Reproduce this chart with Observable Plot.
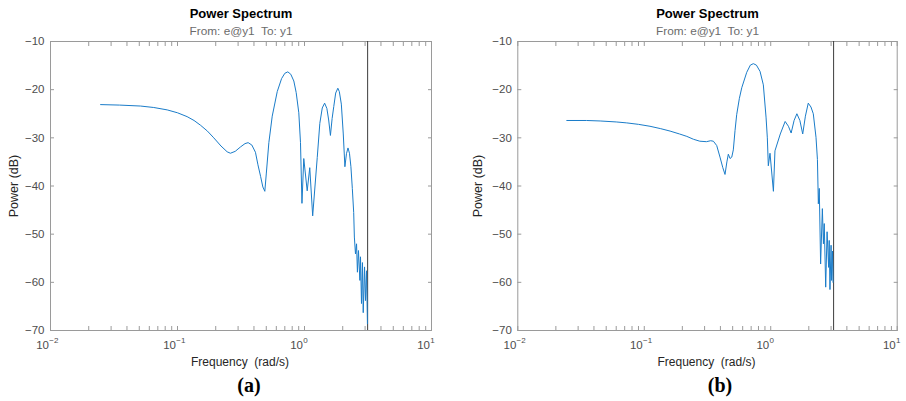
<!DOCTYPE html>
<html><head><meta charset="utf-8">
<script src="https://cdn.jsdelivr.net/npm/d3@7"></script>
<script src="https://cdn.jsdelivr.net/npm/@observablehq/plot@0.6"></script>
<style>
html,body{margin:0;padding:0;background:#fff;}
#fig{position:relative;width:906px;height:401px;overflow:hidden;background:#fff;}
.panel{position:absolute;top:0;width:453px;}
</style></head><body>
<div id="fig"><div id="pa" class="panel" style="left:0"></div><div id="pb" class="panel" style="left:453px"></div></div>
<script>
const titleText = "Power Spectrum";
const subtitleText = "From: e@y1\u00a0 To: y1";
const xLabel = "Frequency\u00a0 (rad/s)";
const yLabel = "Power (dB)";
const panelTags = ["(a)", "(b)"];
const yTicks = [-70, -60, -50, -40, -30, -20, -10];
const xMajorTicks = [0.01, 0.1, 1, 10];
const xTickExponents = ["\u22122", "\u22121", "0", "1"];
const xMinorTicks = [0.01, 0.1, 1].flatMap(d => [2, 3, 4, 5, 6, 7, 8, 9].map(m => m * d));
const nyquist = Math.PI;

const freqA = [0.0248, 0.035, 0.0511, 0.065, 0.083, 0.1, 0.119, 0.135, 0.152, 0.172, 0.193, 0.22, 0.246, 0.261, 0.285, 0.313, 0.34, 0.36, 0.385, 0.411, 0.43, 0.451, 0.47, 0.487, 0.50, 0.524, 0.557, 0.61, 0.66, 0.70, 0.739, 0.78, 0.824, 0.86, 0.902, 0.93, 0.955, 0.987, 1.05, 1.10, 1.16, 1.21, 1.26, 1.32, 1.38, 1.44, 1.50, 1.55, 1.60, 1.65, 1.70, 1.76, 1.83, 1.88, 1.95, 2.02, 2.08, 2.14, 2.20, 2.26, 2.32, 2.38, 2.44, 2.47, 2.52, 2.57, 2.61, 2.66, 2.73, 2.76, 2.81, 2.86, 2.90, 2.97, 3.02, 3.08, 3.13];
const powerA = [-23.1, -23.2, -23.4, -23.7, -24.2, -24.8, -25.6, -26.4, -27.4, -28.6, -30.0, -31.7, -32.9, -33.2, -32.8, -31.9, -31.2, -31.0, -31.5, -33.0, -35.6, -38.0, -40.2, -41.1, -37.5, -31.0, -25.5, -20.4, -17.7, -16.6, -16.3, -16.8, -18.2, -20.6, -24.8, -31.0, -43.6, -34.3, -41.0, -36.2, -46.2, -40.0, -34.1, -27.0, -23.8, -22.8, -23.9, -26.3, -29.5, -26.0, -23.5, -20.7, -19.7, -20.4, -23.0, -29.2, -36.0, -33.3, -32.1, -33.2, -36.0, -40.5, -45.5, -50.6, -54.1, -52.0, -57.9, -53.4, -59.6, -54.7, -64.4, -55.9, -66.3, -56.8, -63.8, -57.6, -68.6];

const freqB = [0.0244, 0.035, 0.0448, 0.06, 0.0727, 0.09, 0.111, 0.135, 0.16, 0.19, 0.217, 0.245, 0.275, 0.31, 0.335, 0.352, 0.374, 0.397, 0.418, 0.435, 0.45, 0.462, 0.477, 0.492, 0.506, 0.522, 0.538, 0.565, 0.59, 0.646, 0.69, 0.729, 0.77, 0.823, 0.874, 0.918, 0.94, 0.957, 0.987, 1.05, 1.08, 1.19, 1.30, 1.38, 1.45, 1.53, 1.61, 1.70, 1.79, 1.88, 1.98, 2.08, 2.17, 2.28, 2.34, 2.38, 2.42, 2.48, 2.56, 2.61, 2.65, 2.72, 2.79, 2.87, 2.90, 2.94, 3.00, 3.03, 3.08, 3.11];
const powerB = [-26.4, -26.4, -26.5, -26.7, -26.9, -27.2, -27.6, -28.1, -28.6, -29.2, -29.7, -30.3, -30.7, -30.8, -30.6, -30.7, -31.6, -34.0, -36.2, -37.6, -35.0, -33.4, -34.3, -34.0, -32.5, -28.5, -25.2, -21.8, -19.6, -16.4, -14.9, -14.6, -14.9, -16.2, -19.0, -25.7, -30.0, -35.8, -33.2, -41.1, -32.7, -29.2, -26.6, -27.6, -29.0, -26.4, -25.0, -26.4, -29.2, -25.5, -22.8, -23.6, -25.0, -29.9, -34.5, -43.7, -40.5, -56.2, -44.7, -52.0, -47.8, -61.0, -49.5, -56.9, -51.3, -61.5, -52.3, -59.6, -53.5, -60.0];

const sans = "'Liberation Sans', Arial, Helvetica, sans-serif";
const serif = "'Liberation Serif', 'Times New Roman', serif";
const frameColor = "#9a9a9a";
const tickTextColor = "#4d4d4d";
const labelColor = "#262626";
const lineColor = "#1a7cc9";

function panel({freq, power, marginLeft, marginRight, tag, tagDx, yLabelDx, xLabelDx}) {
  const data = freq.map((f, i) => ({f, p: power[i]}));
  const xTicksAll = xMajorTicks.concat(xMinorTicks);
  const mid = {lineAnchor: "middle", textAnchor: "middle"};
  return Plot.plot({
    width: 453, height: 401,
    marginLeft, marginRight, marginTop: 41, marginBottom: 71,
    style: {fontFamily: sans, fontSize: "11.5px", color: tickTextColor, background: "transparent", overflow: "visible"},
    x: {type: "log", domain: [0.01, 10]},
    y: {domain: [-70, -10]},
    marks: [
      Plot.axisX(xTicksAll, {anchor: "bottom", tickSize: -4, fill: "none", stroke: frameColor, label: null}),
      Plot.axisX(xTicksAll, {anchor: "top", tickSize: -4, fill: "none", stroke: frameColor, label: null}),
      Plot.axisY(yTicks, {anchor: "left", tickSize: -4, fill: "none", stroke: frameColor, label: null}),
      Plot.axisY(yTicks, {anchor: "right", tickSize: -4, fill: "none", stroke: frameColor, label: null}),
      Plot.axisY(yTicks, {anchor: "left", tickSize: 0, tickPadding: 6, label: null, fill: tickTextColor, fontSize: 11.5}),
      Plot.text(xMajorTicks, {x: d => d, text: () => "10", frameAnchor: "bottom", lineAnchor: "middle", dy: 15.3, dx: -1.5, textAnchor: "end", fill: tickTextColor, fontSize: 11.5}),
      Plot.text(xMajorTicks, {x: d => d, text: (d, i) => xTickExponents[i], frameAnchor: "bottom", lineAnchor: "middle", dy: 10.3, dx: -1.2, textAnchor: "start", fill: tickTextColor, fontSize: 8}),
      Plot.frame({stroke: frameColor}),
      Plot.ruleX([nyquist], {stroke: "#3c3c3c"}),
      Plot.line(data, {x: "f", y: "p", stroke: lineColor, strokeWidth: 1}),
      Plot.text([titleText], {...mid, text: d => d, frameAnchor: "top", dy: -27.8, fontWeight: "bold", fontSize: 13, fill: "#000"}),
      Plot.text([subtitleText], {...mid, text: d => d, frameAnchor: "top", dy: -10.1, fontSize: 11.8, fill: "#6b6b6b"}),
      Plot.text([yLabel], {...mid, text: d => d, frameAnchor: "left", dx: yLabelDx, rotate: -90, fontSize: 12.5, fill: labelColor}),
      Plot.text([xLabel], {...mid, text: d => d, frameAnchor: "bottom", dy: 31.2, dx: xLabelDx, fontSize: 12, fill: labelColor}),
      Plot.text([tag], {...mid, text: d => d, frameAnchor: "bottom", dy: 55, dx: tagDx, fontFamily: serif, fontWeight: "bold", fontSize: 20, fill: "#000"})
    ]
  });
}

document.getElementById("pa").append(panel({freq: freqA, power: powerA, marginLeft: 50, marginRight: 22, tag: panelTags[0], tagDx: 8, yLabelDx: -37, xLabelDx: -1}));
document.getElementById("pb").append(panel({freq: freqB, power: powerB, marginLeft: 64.3, marginRight: 9.3, tag: panelTags[1], tagDx: 12.5, yLabelDx: -40.3, xLabelDx: -1}));
</script>
</body></html>
